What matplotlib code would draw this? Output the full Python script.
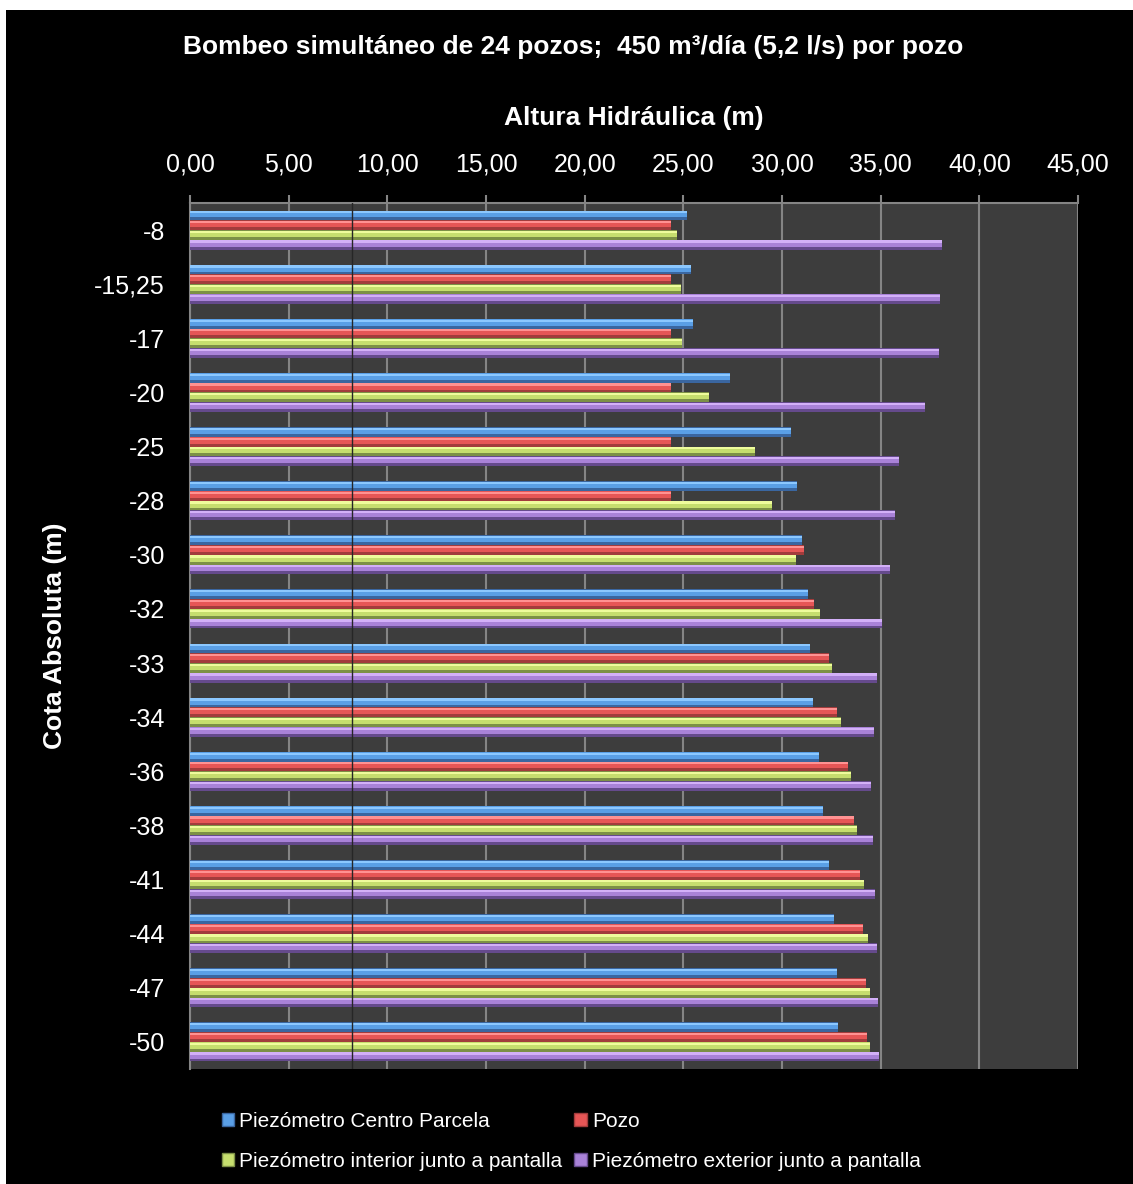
import matplotlib.pyplot as plt
import numpy as np
from matplotlib.patches import Patch, Rectangle
from matplotlib.ticker import FuncFormatter, MultipleLocator

plt.rcParams['font.family'] = ['Liberation Sans', 'DejaVu Sans']

# data
cotas = ['-8', '-15,25', '-17', '-20', '-25', '-28', '-30', '-32', '-33',
         '-34', '-36', '-38', '-41', '-44', '-47', '-50']
centro = [25.2, 25.4, 25.5, 27.35, 30.45, 30.75, 31.0, 31.3, 31.4,
          31.55, 31.85, 32.1, 32.4, 32.65, 32.8, 32.85]
pozo = [24.4, 24.4, 24.35, 24.35, 24.35, 24.35, 31.1, 31.6, 32.4,
        32.8, 33.35, 33.65, 33.95, 34.1, 34.25, 34.3]
interior = [24.7, 24.9, 24.95, 26.3, 28.65, 29.5, 30.7, 31.95, 32.55,
            33.0, 33.5, 33.8, 34.15, 34.35, 34.45, 34.45]
exterior = [38.1, 38.0, 37.95, 37.25, 35.95, 35.75, 35.45, 35.05, 34.8,
            34.65, 34.5, 34.6, 34.7, 34.8, 34.85, 34.9]
series_names = ['Piezómetro Centro Parcela', 'Pozo',
                'Piezómetro interior junto a pantalla',
                'Piezómetro exterior junto a pantalla']

# (light, main, dark) per series
colores = [('#8cc8ff', '#5a9fe6', '#3a66a0'),
           ('#ff9292', '#e65656', '#a23c3c'),
           ('#effc9c', '#c6de6e', '#7c9046'),
           ('#d3b0f8', '#a982d8', '#654a8c')]

W, H = 1133, 1184
fig = plt.figure(figsize=(W / 100, H / 100), dpi=100, facecolor='white')
fig.patches.append(Rectangle((6 / W, 0), 1, 1 - 10 / H, transform=fig.transFigure,
                             facecolor='black', edgecolor='none', zorder=-1))

ax = fig.add_axes([190 / W, 1 - 1069 / H, (1078 - 190) / W, (1069 - 203) / H])
ax.set_facecolor('#3d3d3d')

y = np.arange(len(cotas))
h = 0.18
for i, vals in enumerate([centro, pozo, interior, exterior]):
    light, main, dark = colores[i]
    off = (i - 1.5) * h
    # bevelled look: dark bottom, main body, light top strip
    ax.barh(y + off, vals, height=h, color=dark, zorder=3)
    ax.barh(y + off - h * 0.12, vals, height=h * 0.66, color=main, zorder=3)
    ax.barh(y + off - h * 0.32, vals, height=h * 0.22, color=light, zorder=3)

# stray thin line in the original chart
ax.axvline(8.2, color='#262626', lw=1, zorder=5)

ax.set_xlim(0, 45)
ax.set_ylim(len(cotas) - 0.5, -0.5)
ax.xaxis.set_major_locator(MultipleLocator(5))
ax.xaxis.set_major_formatter(FuncFormatter(lambda v, p: f'{v:.2f}'.replace('.', ',')))
ax.xaxis.tick_top()
ax.xaxis.set_label_position('top')
ax.grid(axis='x', color='#858585', lw=1.5, zorder=1)
ax.set_axisbelow(True)

ax.set_yticks(y)
ax.set_yticklabels(cotas)
ax.tick_params(axis='x', colors='#858585', labelcolor='white', length=6, width=1.5,
               pad=13, labelsize=18)
ax.tick_params(axis='y', length=0, pad=18, labelcolor='white', labelsize=18)

for s in ['right', 'bottom']:
    ax.spines[s].set_visible(False)
for s in ['top', 'left']:
    ax.spines[s].set_color('#858585')
    ax.spines[s].set_linewidth(1.5)

ax.set_xlabel('Altura Hidráulica (m)', color='white', fontsize=19,
              fontweight='bold', labelpad=20)
fig.text(573 / W, 1 - 47 / H,
         'Bombeo simultáneo de 24 pozos;  450 m³/día (5,2 l/s) por pozo',
         color='white', fontsize=19, fontweight='bold', ha='center', va='center')
fig.text(55 / W, 1 - 636 / H, 'Cota Absoluta (m)', color='white', fontsize=19,
         fontweight='bold', rotation=90, ha='center', va='center')

# legend fills column by column: reorder so rows read Centro/Pozo, interior/exterior
orden = [0, 2, 1, 3]
handles = [Patch(facecolor=colores[k][1], edgecolor=colores[k][2]) for k in orden]
fig.legend(handles, [series_names[k] for k in orden], ncol=2, loc='upper left',
           bbox_to_anchor=(203 / W, 1 - 1093 / H), frameon=False, fontsize=15,
           labelcolor='white', handlelength=0.6, handleheight=0.6,
           handletextpad=0.25, columnspacing=0.55, labelspacing=1.0)

fig.savefig('out.png', dpi=100, facecolor=fig.get_facecolor())
